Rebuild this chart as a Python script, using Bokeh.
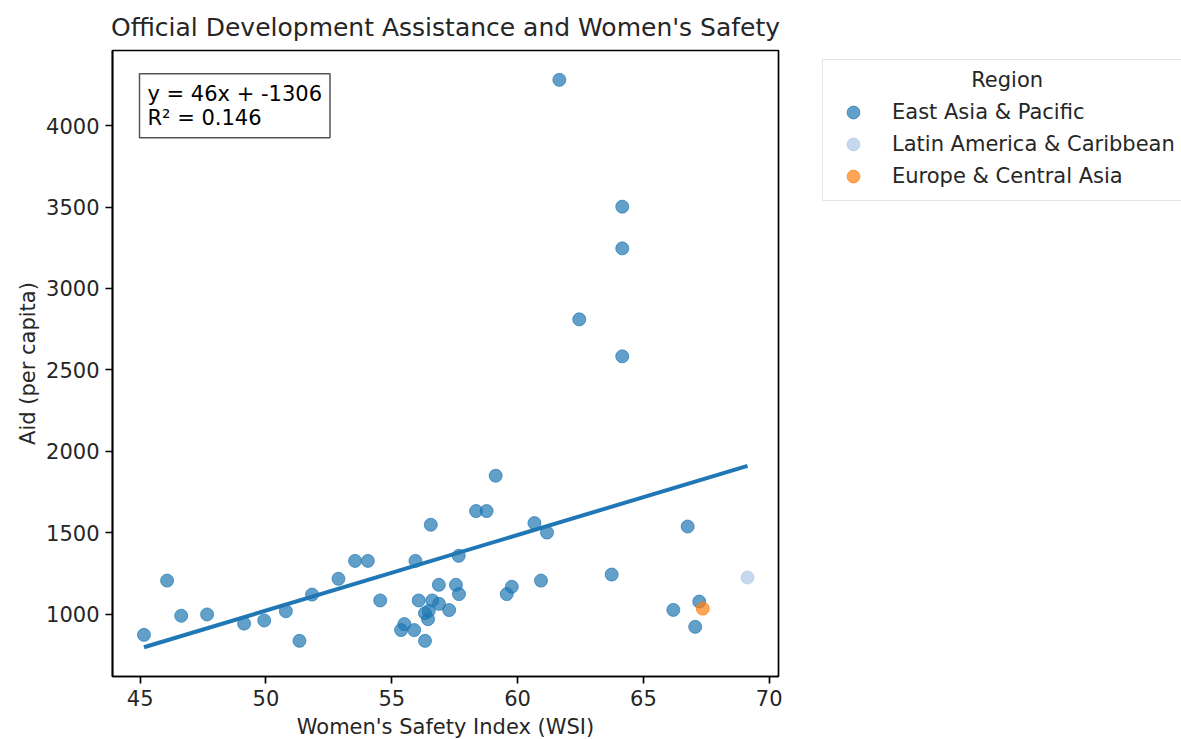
import numpy as np
from bokeh.plotting import figure
from bokeh.models import Range1d, FixedTicker, Label, Legend, LegendItem
from bokeh.embed import file_html
from bokeh.resources import INLINE

# ---- data ----
regions = ["East Asia & Pacific", "Latin America & Caribbean", "Europe & Central Asia"]
region_colors = ["#1f77b4", "#aec7e8", "#ff7f0e"]

wsi_eap = [45.15, 46.07, 46.63, 47.66, 49.13, 49.93, 50.79, 51.33, 51.83, 52.88,
           53.54, 54.05, 54.54, 55.37, 55.50, 55.89, 55.94, 56.07, 56.32, 56.32,
           56.44, 56.47, 56.55, 56.61, 56.87, 56.88, 57.28, 57.55, 57.67, 57.66,
           58.35, 58.77, 59.13, 59.57, 59.77, 60.67, 60.93, 61.17, 63.74, 66.19,
           66.76, 67.06, 67.22, 61.66, 64.16, 64.16, 62.45, 64.16]
aid_eap = [873, 1206, 990, 998, 942, 961, 1018, 836, 1120, 1217,
           1327, 1327, 1084, 902, 939, 902, 1327, 1084, 836, 1006,
           969, 1020, 1549, 1084, 1180, 1063, 1025, 1180, 1123, 1358,
           1633, 1633, 1850, 1123, 1168, 1559, 1206, 1501, 1243, 1026,
           1538, 922, 1077, 4281, 3502, 3246, 2810, 2583]
wsi_lac = [69.14]
aid_lac = [1225]
wsi_eca = [67.36]
aid_eca = [1034]

x_ticks = [45, 50, 55, 60, 65, 70]
y_ticks = [1000, 1500, 2000, 2500, 3000, 3500, 4000]

fit_text = "y = 46x + -1306\nR\u00b2 = 0.146"
title_text = "Official Development Assistance and Women's Safety"
x_label = "Women's Safety Index (WSI)"
y_label = "Aid (per capita)"
legend_title = "Region"

FONT = "DejaVu Sans"
TXT = "#262626"

p = figure(frame_width=666, frame_height=626,
           min_border_left=112, min_border_right=403,
           min_border_top=50, min_border_bottom=63,
           x_range=Range1d(43.9, 70.37), y_range=Range1d(617, 4461),
           output_backend="svg", toolbar_location=None, title=title_text)

p.title.text_font = FONT
p.title.text_font_size = "25px"
p.title.text_font_style = "normal"
p.title.text_color = TXT
p.title.align = "center"
p.title.standoff = 17

p.xgrid.visible = False
p.ygrid.visible = False
p.outline_line_color = "black"
p.outline_line_width = 1.7
p.outline_line_alpha = 1.0

for ax, ticks, lab in ((p.xaxis[0], x_ticks, x_label), (p.yaxis[0], y_ticks, y_label)):
    ax.ticker = FixedTicker(ticks=ticks)
    ax.axis_label = lab
    ax.axis_label_text_font = FONT
    ax.axis_label_text_font_size = "21px"
    ax.axis_label_text_font_style = "normal"
    ax.axis_label_text_color = TXT
    ax.major_label_text_font = FONT
    ax.major_label_text_font_size = "21px"
    ax.major_label_text_color = TXT
    ax.axis_line_color = "black"
    ax.axis_line_width = 1.7
    ax.major_tick_line_color = "black"
    ax.major_tick_line_width = 1.7
    ax.major_tick_out = 7
    ax.major_tick_in = 0
    ax.minor_tick_line_color = None
    ax.major_label_standoff = 6

p.xaxis[0].axis_label_standoff = 6
p.yaxis[0].axis_label_standoff = 3

# regression line from all points
all_x = np.array(wsi_eap + wsi_lac + wsi_eca, dtype=float)
all_y = np.array(aid_eap + aid_lac + aid_eca, dtype=float)
slope, intercept = np.polyfit(all_x, all_y, 1)
lx = np.array([all_x.min(), all_x.max()])
p.line(lx, slope * lx + intercept, line_color="#1f77b4", line_width=4)

series = [(wsi_eap, aid_eap), (wsi_lac, aid_lac), (wsi_eca, aid_eca)]
items = []
for (xs, ys), name, col in zip(series, regions, region_colors):
    r = p.scatter(xs, ys, size=13, marker="circle", fill_color=col, fill_alpha=0.7,
                  line_color=col, line_alpha=0.7, line_width=1)
    items.append(LegendItem(label=name, renderers=[r]))

legend = Legend(items=items, location=(44, 475), margin=0, padding=8, spacing=0,
                glyph_width=44, glyph_height=32, label_height=32, label_standoff=17,
                label_text_font=FONT, label_text_font_size="21px", label_text_color=TXT,
                title="\u00a0" * 21 + legend_title, title_text_font=FONT,
                title_text_font_size="21px", title_text_color=TXT,
                title_text_font_style="normal", title_standoff=4,
                border_line_color="#cccccc", border_line_width=1.5,
                background_fill_color="white", background_fill_alpha=0.8)
p.add_layout(legend, "right")

p.add_layout(Label(x=27, y=602.7, x_units="screen", y_units="screen",
                   text=fit_text, text_font=FONT, text_font_size="21px",
                   text_color="black", text_align="left", text_baseline="top",
                   text_line_height=1.0,
                   background_fill_color="white", background_fill_alpha=0.9,
                   border_line_color="#555555", border_line_width=1.5, padding=8))

open("out.html", "w").write(file_html(p, INLINE))
